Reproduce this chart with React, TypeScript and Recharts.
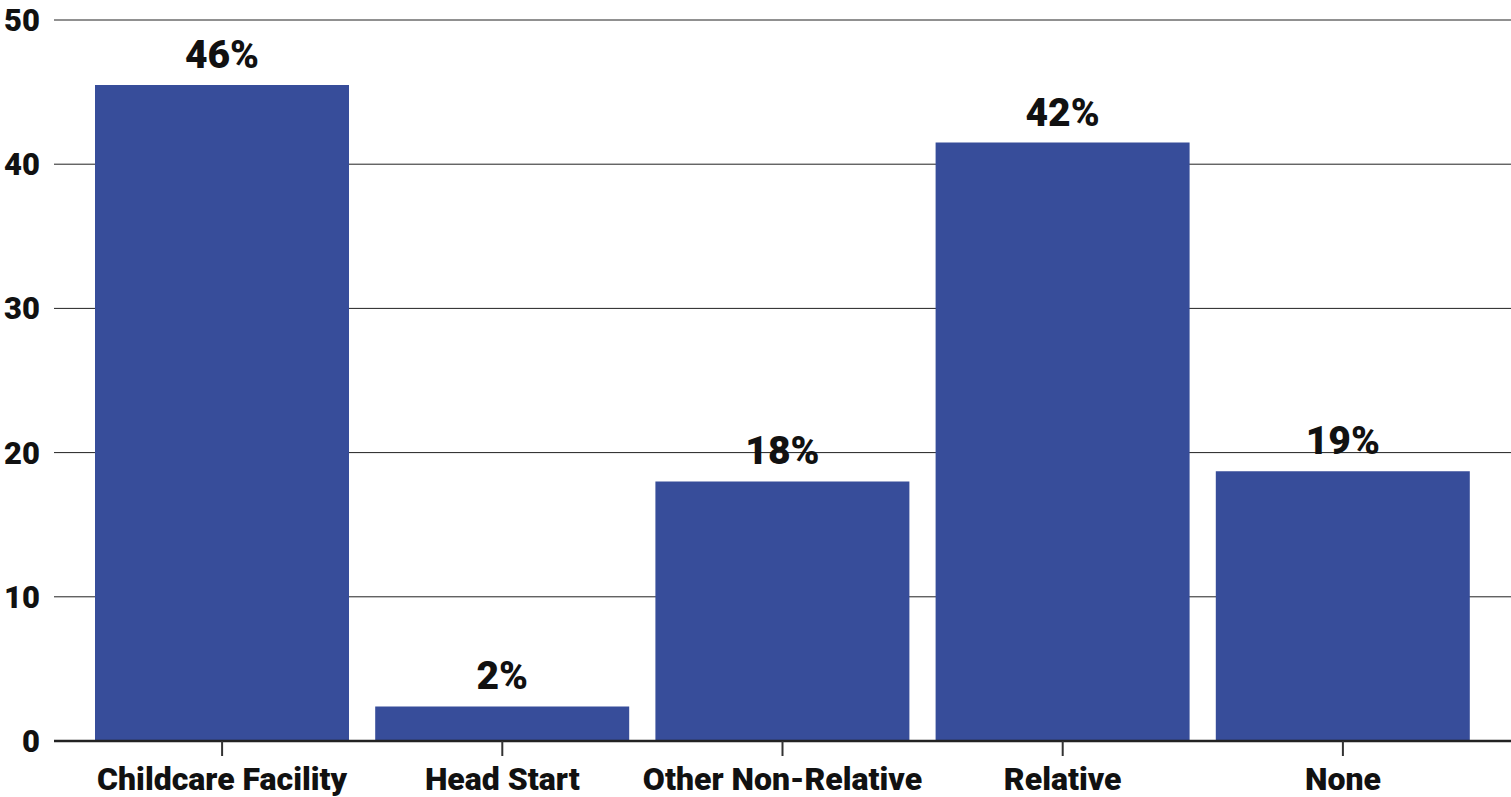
import React from "react";
import { BarChart, Bar, XAxis, YAxis, CartesianGrid, LabelList } from "recharts";

// Primary childcare arrangement, share of respondents (%)
const categories = ["Childcare Facility", "Head Start", "Other Non-Relative", "Relative", "None"];
const shares = [45.5, 2.4, 18.0, 41.5, 18.7];
const yTicks = [0, 10, 20, 30, 40, 50];

const data = categories.map((name, i) => ({ name, value: shares[i] }));

const FONT = "Roboto, 'Noto Sans', sans-serif";
const BAR_COLOR = "#374D9A";

export default function App() {
  return (
    <div style={{ position: "absolute", left: 0, top: 0, width: 1511, height: 797, fontFamily: FONT }}>
      <BarChart
        width={1511}
        height={797}
        data={data}
        margin={{ top: 20, right: 0, bottom: 0, left: 0 }}
        barCategoryGap={13}
      >
        <CartesianGrid vertical={false} stroke="#222" strokeWidth={1} />
        <XAxis
          dataKey="name"
          height={56}
          padding={{ left: 28, right: 28 }}
          axisLine={{ stroke: "#222", strokeWidth: 2.5 }}
          tickLine={{ stroke: "#333", strokeWidth: 2 }}
          tickSize={15}
          tickMargin={11}
          interval={0}
          tick={{ fill: "#111", fontSize: 32, fontWeight: 900, fontFamily: FONT }}
        />
        <YAxis
          width={54}
          domain={[0, 50]}
          ticks={yTicks}
          axisLine={false}
          tickLine={false}
          tickSize={0}
          tickMargin={14}
          tick={{ fill: "#111", fontSize: 31, fontWeight: 900, fontFamily: FONT }}
        />
        <Bar dataKey="value" fill={BAR_COLOR} isAnimationActive={false}>
          <LabelList
            dataKey="value"
            position="top"
            offset={17}
            formatter={(v: number) => `${Math.round(v)}%`}
            style={{ fill: "#111", fontSize: 39, fontWeight: 900, fontFamily: FONT }}
          />
        </Bar>
      </BarChart>
    </div>
  );
}
